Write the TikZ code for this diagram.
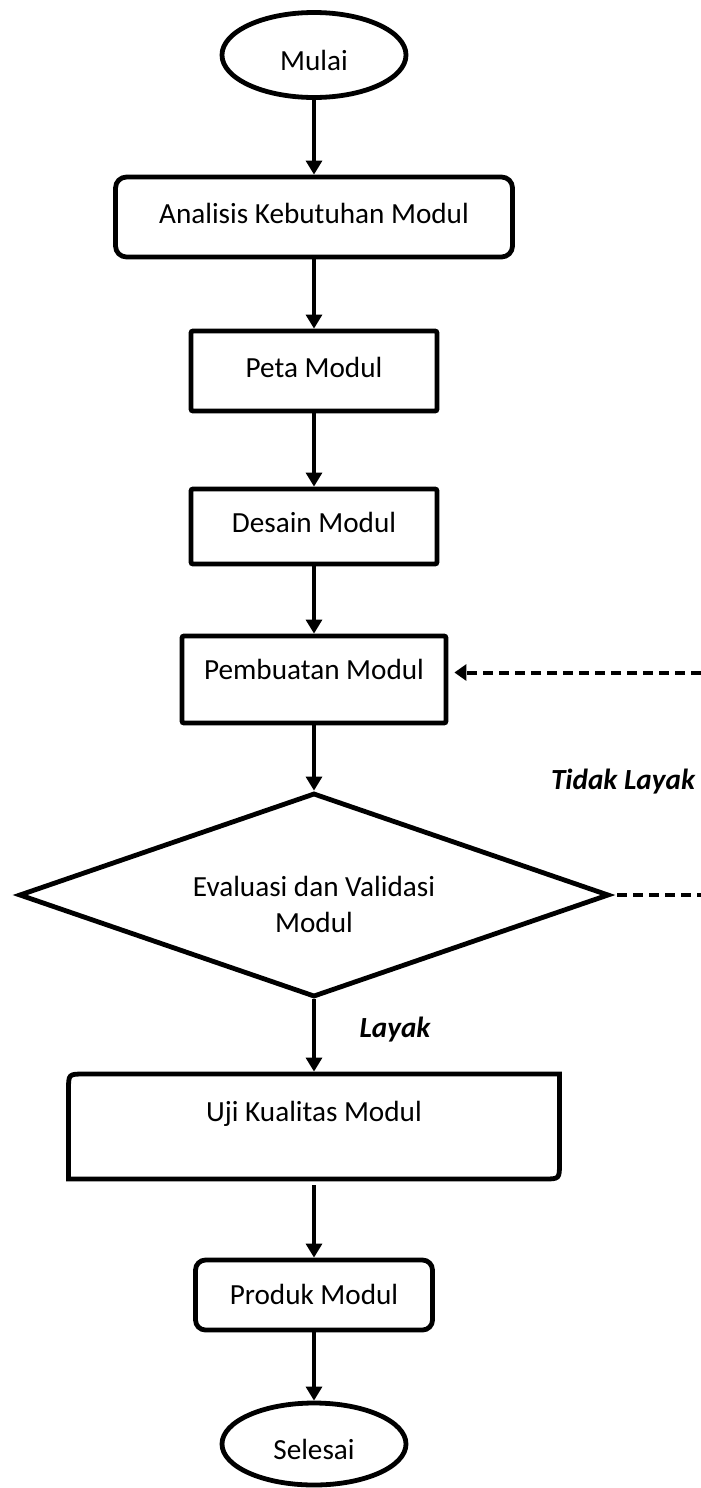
\documentclass[tikz,border=0pt]{standalone}
\usepackage{fontspec}
\setmainfont{Carlito}
\usepackage{tikz}
\usetikzlibrary{shapes.geometric, positioning, arrows.meta}

\tikzset{
  startstop/.style={ellipse, draw, line width=2.4pt, inner sep=0pt, minimum width=92pt, minimum height=42.5pt, text height=16pt},
  process/.style={rectangle, draw, line width=2.4pt, rounded corners=1pt, inner sep=0pt, text height=10pt, text depth=4pt},
  roundbox/.style={process, rounded corners=5.5pt},
  decision/.style={diamond, draw, line width=2.4pt, aspect=3, inner sep=0pt, align=center},
  arrow/.style={line width=1.6pt, -{Triangle[width=8pt,length=7pt]}},
  backarrow/.style={line width=2pt, dash pattern=on 5pt off 3pt, -{Triangle[width=8pt,length=6pt]}},
  lbl/.style={font=\fontsize{14.6}{18}\selectfont\bfseries\itshape}
}

\begin{document}
\begin{tikzpicture}[x=0.5pt, y=-0.5pt, on grid, font=\fontsize{14.6}{18}\selectfont]
    \useasboundingbox (0,0) rectangle (701,1488);

    \node[startstop] (mulai) at (314,55) {Mulai};
    \node[roundbox, minimum width=198.5pt, minimum height=40pt, below=81pt of mulai] (analisis) {Analisis Kebutuhan Modul};
    \node[process, minimum width=123pt, minimum height=40pt, below=77pt of analisis] (peta) {Peta Modul};
    \node[process, minimum width=123pt, minimum height=37.5pt, below=77.75pt of peta] (desain) {Desain Modul};
    \node[process, minimum width=132pt, minimum height=43.5pt, text depth=10pt, below=76.5pt of desain] (pembuatan) {Pembuatan Modul};
    \node[decision, minimum width=295pt, minimum height=102pt, text height=37.4pt, below=107.75pt of pembuatan] (evaluasi) {Evaluasi dan Validasi\\Modul};
    \node[minimum width=245.5pt, minimum height=52.5pt, inner sep=0pt, outer sep=0pt, text height=10pt, text depth=15pt, below=115.75pt of evaluasi] (uji) {Uji Kualitas Modul};
    \node[roundbox, rounded corners=5pt, minimum width=118.5pt, minimum height=35pt, text depth=1pt, below=84.25pt of uji] (produk) {Produk Modul};
    \node[startstop, minimum height=41pt, below=74.5pt of produk] (selesai) {Selesai};

    % uji kualitas: two rounded corners only
    \draw[line width=2.4pt] (uji.south west) -- ([yshift=-8pt]uji.north west)
        .. controls (uji.north west) .. ([xshift=8pt]uji.north west) -- (uji.north east)
        -- ([yshift=8pt]uji.south east)
        .. controls (uji.south east) .. ([xshift=-8pt]uji.south east) -- cycle;

    \draw[arrow] (mulai) -- (analisis);
    \draw[arrow] (analisis) -- (peta);
    \draw[arrow] (peta) -- (desain);
    \draw[arrow] (desain) -- (pembuatan);
    \draw[arrow] (pembuatan) -- (evaluasi);
    \draw[arrow, shorten >=1.2pt] (evaluasi) -- (uji);
    \draw[arrow, shorten <=3pt] (uji) -- (produk);
    \draw[arrow] (produk) -- (selesai);

    % tidak layak: back to pembuatan (runs off the page)
    \coordinate (balik) at (740,897);
    \coordinate (masuk) at ([yshift=3.5pt]pembuatan.east);
    \draw[backarrow, shorten <=3pt, shorten >=3pt] (evaluasi.east) -- (evaluasi.east -| balik) -- (masuk -| balik) -- (masuk);

    \node[lbl] (tidak) at (623,782) {Tidak Layak};
    \node[lbl] (layak) at (395,1030) {Layak};
\end{tikzpicture}
\end{document}
